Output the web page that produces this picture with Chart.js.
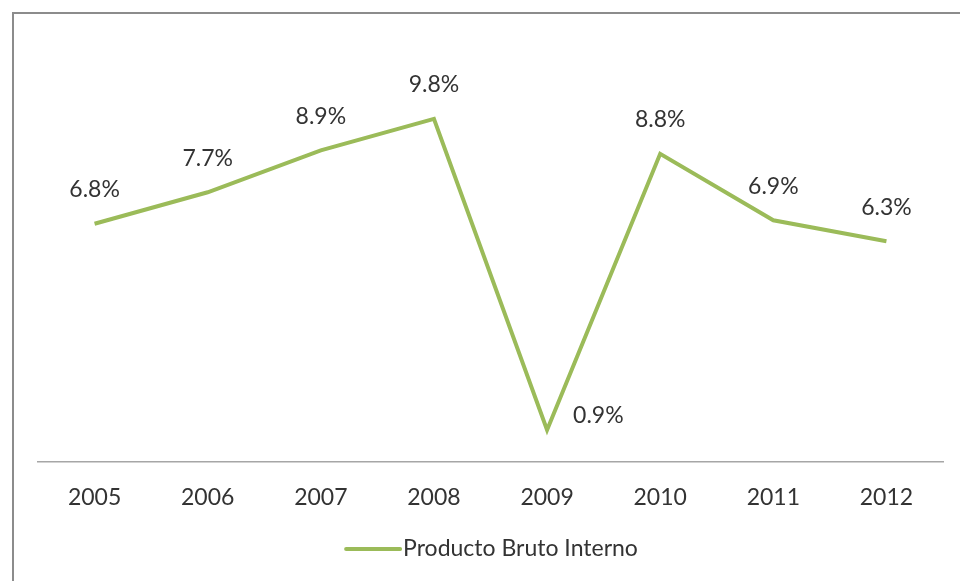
<!DOCTYPE html>
<html>
<head>
<meta charset="utf-8">
<script src="https://cdn.jsdelivr.net/npm/chart.js@4"></script>
<style>
  html, body { margin: 0; padding: 0; background: #fff; overflow: hidden; }
  #frame {
    position: absolute; left: 12px; top: 12px; width: 980px; height: 600px;
    border: 2px solid #8c8c8c; box-sizing: border-box;
  }
  #wrap { position: absolute; left: 0; top: 0; width: 960px; height: 581px; }
</style>
</head>
<body>
<div id="frame"></div>
<div id="wrap"><canvas id="chart_pbi" width="960" height="581"></canvas></div>
<script>
let years = ["2005", "2006", "2007", "2008", "2009", "2010", "2011", "2012"];
let pbiValues = [6.8, 7.7, 8.9, 9.8, 0.9, 8.8, 6.9, 6.3];
let seriesName = "Producto Bruto Interno";

// Excel-style value labels, above the point except the dip in 2009
let valueLabels = {
    id: "valueLabels",
    afterDatasetsDraw(chart) {
        let ctx = chart.ctx;
        let meta = chart.getDatasetMeta(0);
        ctx.save();
        ctx.font = "23px Lato";
        ctx.fillStyle = "#333333";
        ctx.textBaseline = "middle";
        meta.data.forEach((pt, i) => {
            let text = pbiValues[i].toFixed(1) + "%";
            if (i === 4) {
                ctx.textAlign = "left";
                ctx.fillText(text, pt.x + 26, pt.y - 14);
            } else {
                ctx.textAlign = "center";
                ctx.fillText(text, pt.x, pt.y - 34);
            }
        });
        ctx.restore();
    }
};

// legend drawn by hand: Excel puts the text right against the line sample
let excelLegend = {
    id: "excelLegend",
    afterDraw(chart) {
        let ctx = chart.ctx;
        let ds = chart.data.datasets[0];
        let y = 549;
        ctx.save();
        ctx.font = "23px Lato";
        let textW = ctx.measureText(ds.label).width;
        let lineW = 54, gap = 3;
        let x0 = (chart.width - (lineW + gap + textW)) / 2 + 12;
        ctx.strokeStyle = ds.borderColor;
        ctx.lineWidth = ds.borderWidth;
        ctx.lineCap = "round";
        ctx.beginPath();
        ctx.moveTo(x0, y);
        ctx.lineTo(x0 + lineW, y);
        ctx.stroke();
        ctx.fillStyle = "#333333";
        ctx.textAlign = "left";
        ctx.textBaseline = "middle";
        ctx.fillText(ds.label, x0 + lineW + gap, y);
        ctx.restore();
    }
};

let ctx = document.getElementById("chart_pbi").getContext("2d");
new Chart(ctx, {
    type: "line",
    data: {
        labels: years,
        datasets: [{
            label: seriesName,
            data: pbiValues,
            borderColor: "#9BBB59",
            backgroundColor: "#9BBB59",
            borderWidth: 4,
            pointRadius: 0,
            tension: 0
        }]
    },
    options: {
        responsive: false,
        animation: false,
        layout: { padding: { left: 38, right: 17, top: 42, bottom: 48 } },
        plugins: {
            tooltip: { enabled: false },
            legend: { display: false }
        },
        scales: {
            x: {
                offset: true,
                grid: { display: false, drawTicks: false },
                border: { display: true, color: "#a6a6a6", width: 1.5 },
                ticks: { color: "#333333", font: { family: "Lato", size: 23 }, padding: 22 }
            },
            y: {
                display: false,
                min: 0,
                max: 12
            }
        }
    },
    plugins: [valueLabels, excelLegend]
});
</script>
</body>
</html>
